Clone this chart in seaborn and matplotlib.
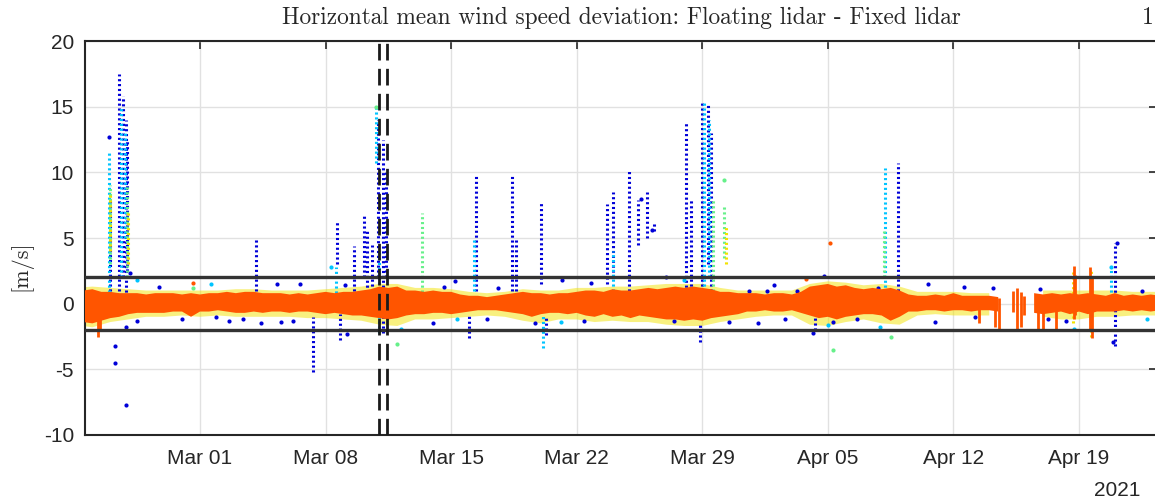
import numpy as np
import pandas as pd
import matplotlib
matplotlib.use("Agg")
import matplotlib.pyplot as plt
import matplotlib.dates as mdates
import seaborn as sns

nan = np.nan
BASE = pd.Timestamp("2021-03-01")

# ---------------- data (days relative to 2021-03-01, values in m/s) ----------------
band_day = np.arange(-6.5, 53.51, 0.5)
band_hi = [1.0, 1.1, 0.9, 0.9, 0.8, 0.8, 0.8, 0.7, 0.8, 0.8,
           0.8, 0.7, 0.8, 0.7, 0.8, 0.8, 0.9, 0.8, 0.9, 0.9,
           0.8, 0.8, 0.8, 0.7, 0.8, 0.7, 0.8, 0.9, 0.8, 0.9,
           0.9, 1.0, 1.1, 1.3, 1.2, 1.3, 1.0, 1.0, 0.9, 1.0,
           0.9, 0.9, 0.7, 0.6, 0.6, 0.5, 0.6, 0.7, 0.8, 0.9,
           0.8, 0.8, 0.7, 0.8, 0.8, 0.9, 1.0, 1.0, 0.9, 1.1,
           1.0, 1.0, 1.1, 1.2, 1.1, 1.2, 1.3, 1.2, 1.3, 1.2,
           1.1, 0.9, 0.9, 0.8, 0.8, 0.8, 0.7, 0.8, 0.8, 0.7,
           0.9, 1.3, 1.4, 1.5, 1.3, 1.4, 1.2, 1.1, 1.2, 1.1,
           1.2, 1.0, 0.7, 0.6, 0.6, 0.7, 0.6, 0.8, 0.6, 0.6,
           0.6, 0.6, 0.5, nan, nan, nan, 0.8, 0.7, 0.8, 0.7,
           0.8, 0.7, 0.8, 0.7, 0.6, 0.8, 0.6, 0.7, 0.6, 0.7, 0.6]
band_lo = [-1.4, -1.5, -1.3, -1.1, -1.0, -0.8, -0.7, -0.7, -0.7, -0.7,
           -0.6, -0.6, -1.0, -0.6, -0.6, -0.5, -0.6, -0.7, -0.7, -0.6,
           -0.7, -0.6, -0.6, -0.7, -0.6, -0.6, -0.7, -0.8, -0.7, -0.8,
           -0.9, -0.9, -1.0, -1.1, -1.2, -1.1, -0.9, -0.8, -0.8, -0.7,
           -0.7, -0.8, -0.7, -0.6, -0.5, -0.5, -0.5, -0.6, -0.7, -0.8,
           -1.0, -0.8, -0.7, -0.7, -0.8, -0.7, -0.9, -1.0, -0.8, -1.0,
           -0.9, -1.1, -0.9, -1.0, -1.1, -1.2, -1.2, -1.3, -1.2, -1.3,
           -1.1, -1.0, -0.9, -0.8, -0.6, -0.6, -0.5, -0.6, -0.6, -0.5,
           -0.7, -0.9, -1.1, -1.0, -1.2, -1.0, -0.9, -0.8, -0.8, -0.9,
           -1.3, -1.0, -0.6, -0.6, -0.5, -0.5, -0.6, -0.5, -0.5, -0.6,
           -0.5, -0.5, -0.6, nan, nan, nan, -0.7, -0.8, -0.7, -0.6,
           -0.8, -0.6, -0.8, -0.6, -0.6, -0.6, -0.5, -0.6, -0.5, -0.6, -0.5]

halo_day = np.arange(-7, 54.01, 1.0)
halo_hi = [1.2, 1.3, 1.2, 1.1, 1.0, 1.0, 1.0, 1.0, 1.0, 1.1,
           1.1, 1.0, 1.0, 1.0, 1.1, 1.2, 1.3, 1.5, 1.5, 1.2,
           1.2, 1.1, 0.9, 0.8, 0.9, 1.1, 1.0, 1.0, 1.2, 1.2,
           1.3, 1.3, 1.4, 1.5, 1.5, 1.5, 1.2, 1.0, 1.0, 1.0,
           1.0, 1.5, 1.7, 1.6, 1.4, 1.5, 1.3, 0.9, 0.9, 0.9,
           0.8, 0.8, nan, nan, 1.0, 1.0, 1.0, 1.0, 1.0, 0.9, 0.9, 0.9]
halo_lo = [-1.6, -1.8, -1.4, -1.2, -1.0, -1.0, -0.9, -1.0, -0.9, -1.0,
           -1.0, -1.0, -1.0, -1.1, -1.1, -1.2, -1.3, -1.6, -1.7, -1.2,
           -1.2, -1.1, -1.0, -0.9, -1.0, -1.3, -1.5, -1.2, -1.2, -1.4,
           -1.3, -1.4, -1.4, -1.6, -1.7, -1.7, -1.4, -1.2, -1.0, -0.9,
           -0.9, -1.6, -1.7, -1.4, -1.2, -1.5, -1.6, -0.9, -0.8, -0.9,
           -0.9, -0.9, nan, nan, -1.0, -1.2, -1.2, -1.0, -1.0, -0.9, -0.9, -0.9]

# vertical clusters of points: (day, low, high)
blue_col_day = [-5.0, -4.5, -4.3, -4.15, -4.05, 3.1, 6.3, 7.65, 7.8, 8.6, 9.15, 9.3, 9.6,
                9.95, 10.2, 10.35, 10.2, 15.4, 15.0, 17.4, 17.6, 19.0, 19.3, 22.7, 23.0,
                23.9, 24.4, 24.9, 25.3, 27.1, 27.4, 28.0, 28.3, 28.5, 27.9, 34.3, 38.9, 51.0]
blue_col_lo = [1.0, 1.0, 2.0, 0.5, 2.5, 1.0, -5.2, 3.0, -2.8, 1.0, 2.0, 0.5, 1.0,
               2.0, 0.5, 2.0, -2.2, 1.0, -2.6, 1.0, 1.0, 1.5, -2.4, 1.5, 2.0,
               1.0, 4.5, 5.0, 5.5, 0.5, 1.0, 1.0, 3.0, 1.0, -2.9, -2.0, 1.0, -3.2]
blue_col_hi = [8.0, 17.5, 15.8, 14.0, 12.5, 4.9, -1.0, 6.4, -0.8, 4.4, 6.7, 5.5, 4.5,
               14.0, 12.5, 10.0, -0.8, 9.8, -0.9, 9.9, 5.0, 7.8, -1.0, 7.6, 8.5,
               10.1, 7.9, 8.5, 6.2, 13.8, 8.0, 15.3, 15.3, 13.0, -1.5, -0.8, 10.7, 4.6]

cyan_col_day = [-5.05, -4.4, -4.2, 7.6, 9.8, 10.0, 15.3, 19.1, 23.0, 28.1, 28.4, 38.2, 50.8]
cyan_col_lo = [0.5, 2.0, 5.0, 0.8, 10.7, -2.2, 1.0, -3.4, 1.0, 1.0, 2.0, 0.5, 0.5]
cyan_col_hi = [11.5, 15.0, 13.0, 2.8, 15.0, 4.0, 5.0, -0.8, 4.0, 15.3, 14.0, 10.3, 2.8]

green_col_day = [-5.0, -4.05, 12.4, 28.6, 29.2, 38.15]
green_col_lo = [3.0, 2.0, 0.5, 1.0, 3.5, 2.0]
green_col_hi = [9.0, 9.0, 6.9, 8.0, 7.5, 5.5]

yellow_col_day = [-5.0, -4.0, 29.3, 48.65, 49.65]
yellow_col_lo = [4.0, 3.0, 3.0, -1.5, -2.5]
yellow_col_hi = [8.5, 7.0, 6.0, 2.4, 2.6]

orange_col_day = [-5.7, -5.55, 43.4, 44.3, 44.55, 45.35, 45.55, 45.75, 45.95,
                  46.7, 47.0, 47.7, 48.7, 48.8, 49.6, 49.75]
orange_col_lo = [-2.5, -2.0, -1.5, -1.8, -2.0, -0.6, -1.9, -1.8, -0.9,
                 -2.0, -1.9, -2.1, -1.2, -0.9, -2.0, -2.6]
orange_col_hi = [0.0, 0.0, 0.0, 0.0, 0.4, 1.0, 1.2, 0.9, 0.6,
                 0.5, 0.5, 0.3, 2.9, 2.2, 2.8, 2.0]

# isolated points
blue_pt_day = [-5.05, -4.75, -4.75, -4.1, -4.1, -3.9, -3.5, -2.3, -1.0, 0.9, 1.6, 2.4, 3.4,
               4.3, 4.5, 5.2, 5.6, 8.1, 8.2, 13.0, 13.6, 14.2, 16.0, 16.6, 18.7, 20.2,
               21.4, 21.8, 24.6, 25.2, 26.0, 26.4, 29.5, 30.6, 31.1, 31.6, 32.0, 32.6,
               33.3, 34.2, 34.8, 35.3, 36.6, 37.8, 40.6, 41.0, 42.6, 43.2, 44.2, 46.8,
               47.3, 48.3, 50.9, 51.1, 52.5]
blue_pt_val = [12.7, -3.2, -4.5, -7.7, -1.8, 2.3, -1.3, 1.3, -1.2, -1.0, -1.3, -1.2, -1.5,
               1.5, -1.4, -1.3, 1.5, 1.4, -2.3, -1.5, 1.3, 1.7, -1.2, 1.2, -1.5, 1.8,
               -1.3, 1.6, 8.0, 5.6, 2.0, -1.3, -1.4, 1.0, -1.5, 1.0, 1.4, -1.2,
               1.0, -2.2, 2.1, -1.4, -1.2, 1.2, 1.5, -1.4, 1.3, -1.0, 1.2, 1.1,
               -1.2, -1.3, -2.9, 4.6, 1.0]
cyan_pt_day = [-3.5, 0.6, 7.3, 11.2, 14.3, 20.1, 27.0, 35.0, 37.9, 48.7, 50.8, 52.8]
cyan_pt_val = [1.8, 1.5, 2.8, -1.9, -1.2, -1.4, 1.8, -1.6, -1.8, -1.9, 2.8, -1.2]
green_pt_day = [11.0, 35.3, 38.5, 29.2, -0.4, 9.8]
green_pt_val = [-3.1, -3.5, -2.5, 9.4, 1.2, 15.0]
orange_pt_day = [-0.4, 35.1, 33.8]
orange_pt_val = [1.6, 4.6, 1.9]

limit_lines = [2, -2]
event_days = [9.98, 10.42]
x_ticks = ["2021-03-01", "2021-03-08", "2021-03-15", "2021-03-22",
           "2021-03-29", "2021-04-05", "2021-04-12", "2021-04-19"]
y_ticks = [-10, -5, 0, 5, 10, 15, 20]

TITLE = "Horizontal mean wind speed deviation: Floating lidar - Fixed lidar"
YLABEL = "[m/s]"

# ---------------- styling ----------------
sns.set_theme(style="white")
plt.rcParams["font.family"] = ["Liberation Sans", "DejaVu Sans"]
plt.rcParams["axes.unicode_minus"] = False
TXT = "#262626"
C_BLUE = "#0000d8"
C_CYAN = "#00c4ff"
C_GREEN = "#66f08a"
C_YELLOW = "#f2e200"
C_ORANGE = "#ff5500"


def dt(d):
    return BASE + pd.to_timedelta(np.asarray(d, dtype=float), unit="D")


fig = plt.figure(figsize=(11.55, 4.99), dpi=100)
ax = fig.add_axes([85 / 1155, (499 - 435) / 499, (1157 - 85) / 1155, (435 - 41) / 499])

# halo of the mixed-colour series around the dense band
ax.fill_between(dt(halo_day), halo_lo, halo_hi, color=C_YELLOW, lw=0, alpha=0.5, zorder=2)

dots = (0, (0.7, 0.9))
for days, lo, hi, col in [(blue_col_day, blue_col_lo, blue_col_hi, C_BLUE),
                          (cyan_col_day, cyan_col_lo, cyan_col_hi, C_CYAN),
                          (green_col_day, green_col_lo, green_col_hi, C_GREEN),
                          (yellow_col_day, yellow_col_lo, yellow_col_hi, C_YELLOW)]:
    ax.vlines(dt(days), lo, hi, colors=col, linewidth=2.2, linestyles=dots, zorder=3)

for days, vals, col in [(blue_pt_day, blue_pt_val, C_BLUE),
                        (cyan_pt_day, cyan_pt_val, C_CYAN),
                        (green_pt_day, green_pt_val, C_GREEN)]:
    sns.scatterplot(x=dt(days), y=vals, color=col, s=9, linewidth=0, ax=ax, zorder=3)

# dense orange series
ax.fill_between(dt(band_day), band_lo, band_hi, color=C_ORANGE, lw=0, zorder=4)
ax.vlines(dt(orange_col_day), orange_col_lo, orange_col_hi, colors=C_ORANGE,
          linewidth=2.0, zorder=4)
sns.scatterplot(x=dt(orange_pt_day), y=orange_pt_val, color=C_ORANGE, s=9, linewidth=0,
                ax=ax, zorder=4)

for yv in limit_lines:
    ax.axhline(yv, color="#333333", lw=2.4, zorder=5)
for d in event_days:
    ax.axvline(dt([d])[0], color="#1a1a1a", lw=2.0, ls=(0, (6, 3)), zorder=6)

ax.set_xlim(dt([-6.41])[0], dt([53.35])[0])
ax.set_ylim(-10, 20)
ax.set_xticks(pd.to_datetime(x_ticks))
ax.xaxis.set_major_formatter(mdates.DateFormatter("%b %d"))
ax.set_yticks(y_ticks)
ax.grid(True, color="#e1e1e1", lw=1.0, zorder=0)
ax.set_axisbelow(True)
ax.tick_params(axis="both", direction="in", length=6, width=1.2, colors=TXT,
               labelsize=15, top=True, right=True, labelcolor=TXT)
ax.tick_params(axis="x", pad=10)
ax.tick_params(axis="y", pad=8)
for s in ax.spines.values():
    s.set_color(TXT)
    s.set_linewidth(1.5)
ax.set_xlabel("")
ax.set_ylabel("")

fig.text(621 / 1155, 1 - 18 / 499, TITLE, family="cmr10", fontsize=16.8,
         color=TXT, ha="center", va="center")
fig.text(21 / 1155, 1 - 266 / 499, YLABEL, family="cmr10", fontsize=16,
         color=TXT, ha="center", va="center", rotation=90)
fig.text(1140 / 1155, 1 - 490 / 499, "2021", fontsize=15, color=TXT, ha="right", va="center")
fig.text(1154 / 1155, 1 - 18 / 499, "1", family="cmr10", fontsize=16.8, color=TXT,
         ha="right", va="center")

fig.savefig("out.png", dpi=100)
